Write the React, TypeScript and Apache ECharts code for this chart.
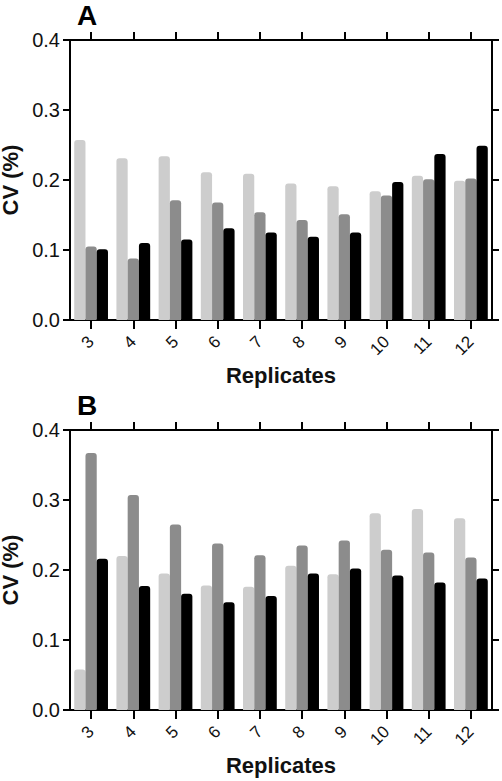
import React, { useEffect, useRef } from "react";
import * as echarts from "echarts";

const categories = ["3", "4", "5", "6", "7", "8", "9", "10", "11", "12"];
const yTicks = [0, 0.1, 0.2, 0.3, 0.4];

const aLight = [0.257, 0.231, 0.234, 0.211, 0.209, 0.195, 0.191, 0.184, 0.206, 0.199];
const aGrey = [0.105, 0.088, 0.171, 0.168, 0.154, 0.143, 0.151, 0.178, 0.201, 0.202];
const aBlack = [0.101, 0.11, 0.115, 0.131, 0.125, 0.119, 0.125, 0.197, 0.237, 0.249];

const bLight = [0.058, 0.22, 0.195, 0.178, 0.176, 0.206, 0.194, 0.281, 0.287, 0.274];
const bGrey = [0.367, 0.307, 0.265, 0.238, 0.221, 0.235, 0.242, 0.229, 0.225, 0.218];
const bBlack = [0.216, 0.177, 0.166, 0.154, 0.163, 0.195, 0.202, 0.192, 0.182, 0.188];

const panelTitles = ["A", "B"];
const colors = ["#cdcdcd", "#8c8c8c", "#000000"];

const FONT = "'Liberation Sans', Arial, sans-serif";

export default function App() {
  const ref = useRef<HTMLDivElement>(null);
  useEffect(() => {
    if (!ref.current) return;
    const chart = echarts.init(ref.current, null, { renderer: "svg" });
    const grids = [
      { left: 70, right: 10, top: 40, height: 280, outerBoundsMode: "none", containLabel: false },
      { left: 70, right: 10, top: 430, height: 280, outerBoundsMode: "none", containLabel: false },
    ];
    const xAxis: any[] = [];
    const yAxis: any[] = [];
    grids.forEach((_, i) => {
      xAxis.push({
        type: "category",
        gridIndex: i,
        data: categories,
        position: "bottom",
        axisLine: { show: true, onZero: false, lineStyle: { color: "#000", width: 2 } },
        axisTick: { show: true, alignWithLabel: true, length: 9, lineStyle: { color: "#000", width: 2 } },
        axisLabel: { rotate: 45, interval: 0, fontSize: 17, color: "#111", fontFamily: FONT, margin: 19 },
        name: "Replicates",
        nameLocation: "middle",
        nameGap: 44,
        nameTextStyle: { fontSize: 22, fontWeight: "bold", color: "#111", fontFamily: FONT },
      });
      xAxis.push({
        type: "category",
        gridIndex: i,
        data: categories,
        position: "top",
        axisLine: { show: true, onZero: false, lineStyle: { color: "#000", width: 2 } },
        axisTick: { show: true, alignWithLabel: true, inside: false, length: 8, lineStyle: { color: "#000", width: 2 } },
        axisLabel: { show: true, inside: true, interval: 0, fontSize: 6, margin: 4, color: "rgba(0,0,0,0)" },
      });
      yAxis.push({
        type: "value",
        gridIndex: i,
        min: yTicks[0],
        max: yTicks[yTicks.length - 1],
        interval: 0.1,
        position: "left",
        splitLine: { show: false },
        axisLine: { show: true, onZero: false, lineStyle: { color: "#000", width: 2 } },
        axisTick: { show: true, length: 7, lineStyle: { color: "#000", width: 2 } },
        axisLabel: { formatter: (v: number) => v.toFixed(1), fontSize: 20, color: "#111", fontFamily: FONT, margin: 10 },
        name: "CV (%)",
        nameLocation: "middle",
        nameGap: 40,
        nameTextStyle: { fontSize: 22, fontWeight: "bold", color: "#111", fontFamily: FONT },
      });
      yAxis.push({
        type: "value",
        gridIndex: i,
        min: yTicks[0],
        max: yTicks[yTicks.length - 1],
        interval: 0.1,
        position: "right",
        splitLine: { show: false },
        axisLine: { show: true, onZero: false, lineStyle: { color: "#000", width: 2 } },
        axisTick: { show: true, length: 7, lineStyle: { color: "#000", width: 2 } },
        axisLabel: { show: false },
      });
    });
    const panels = [
      [aLight, aGrey, aBlack],
      [bLight, bGrey, bBlack],
    ];
    const series: any[] = [];
    panels.forEach((p, i) => {
      p.forEach((d, j) => {
        series.push({
          type: "bar",
          xAxisIndex: i * 2,
          yAxisIndex: i * 2,
          data: d,
          barGap: "0%",
          barCategoryGap: "20%",
          itemStyle: { color: colors[j], borderRadius: [3, 3, 0, 0] },
        });
      });
    });
    chart.setOption({
      animation: false,
      backgroundColor: "#fff",
      title: panelTitles.map((t, i) => ({
        text: t,
        left: 77,
        top: i === 0 ? 1 : 391,
        padding: 0,
        textStyle: { fontSize: 28, fontWeight: "bold", color: "#000", fontFamily: FONT },
      })),
      grid: grids,
      xAxis,
      yAxis,
      series,
    });
    return () => chart.dispose();
  }, []);
  return <div ref={ref} style={{ position: "fixed", left: 0, top: 0, width: 502, height: 781 }} />;
}
